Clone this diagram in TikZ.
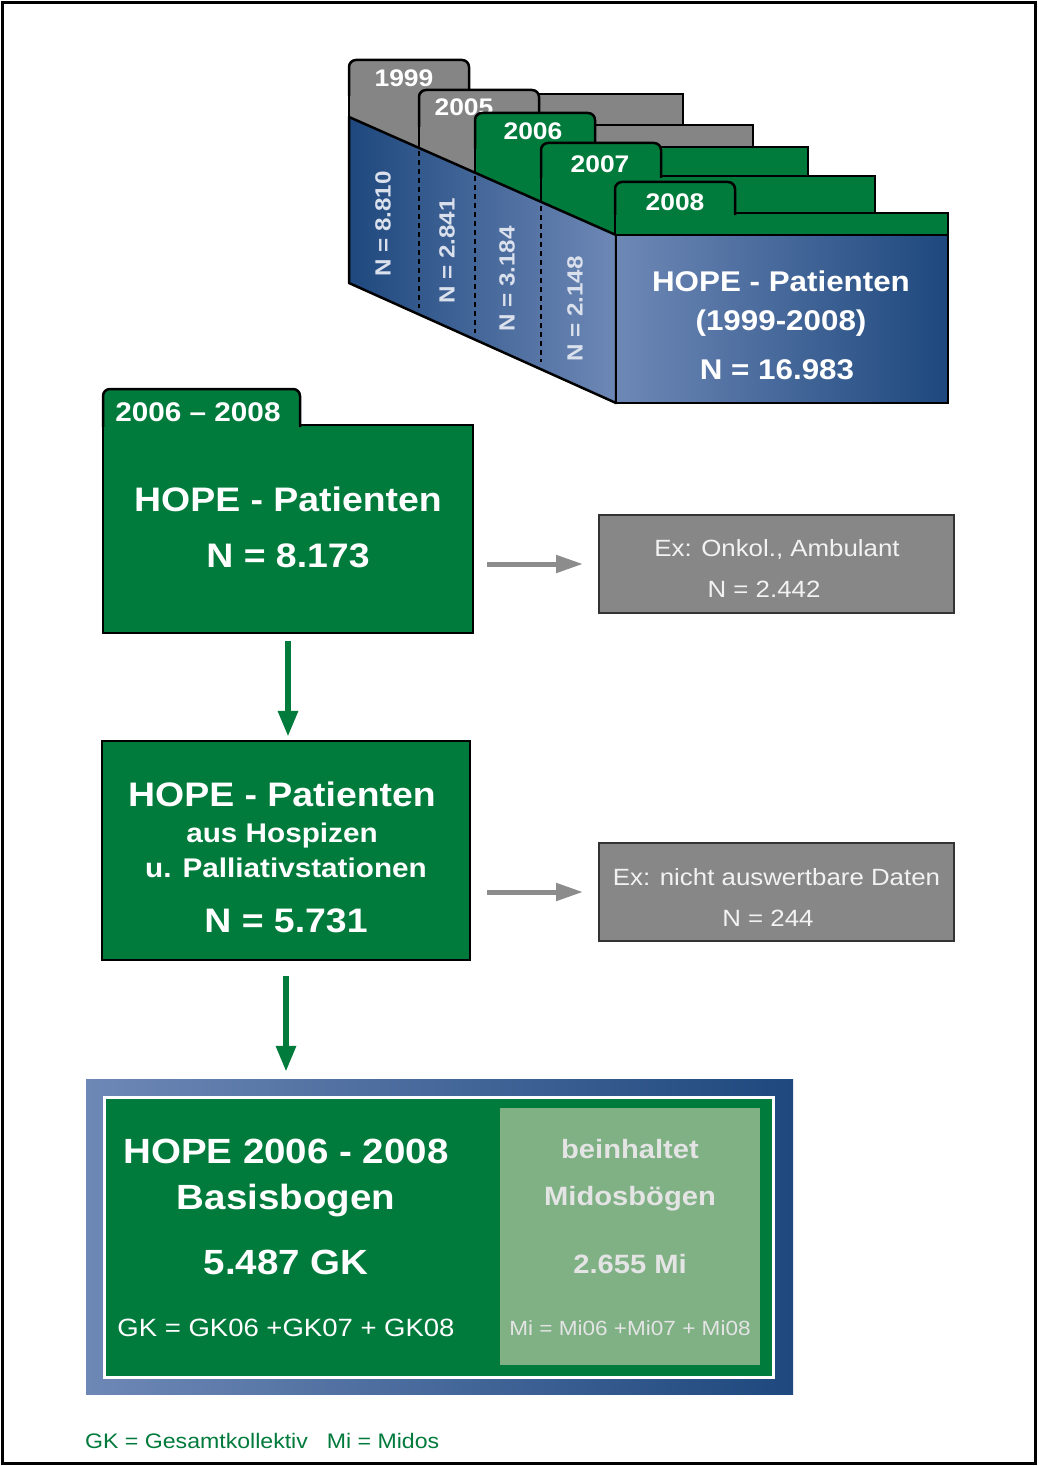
\documentclass[tikz,border=0pt]{standalone}
\usepackage{fontspec}
\setmainfont{Liberation Sans}[FakeStretch=1.1]
\usetikzlibrary{arrows.meta}
\definecolor{grn}{RGB}{0,123,60}
\definecolor{lgrn}{RGB}{127,177,133}
\definecolor{tabgray}{RGB}{133,133,133}
\definecolor{boxgray}{RGB}{135,135,135}
\definecolor{arrgray}{RGB}{140,140,140}
\definecolor{bdark}{RGB}{30,72,126}
\definecolor{blight}{RGB}{110,136,182}
\definecolor{lbl}{RGB}{218,224,236}
\definecolor{ltxt}{RGB}{228,228,228}
\definecolor{gtxt}{RGB}{242,242,242}
\newcommand{\fsz}[1]{\fontsize{#1pt}{#1pt}\selectfont}
\begin{document}
\begin{tikzpicture}[x=1pt,y=-1pt,
  outl/.style={draw=black, line width=2.5pt},
  gfold/.style={outl, fill=tabgray},
  nfold/.style={outl, fill=grn},
  gbox/.style={outl, fill=grn, inner sep=0pt},
  exbox/.style={draw=black!80, line width=2pt, fill=boxgray, inner sep=0pt, minimum width=355pt, minimum height=98pt},
  garrow/.style={draw=grn, line width=6pt, -{Triangle[length=26pt,width=19pt]}},
  grarrow/.style={draw=arrgray, line width=5pt, -{Triangle[length=27pt,width=17pt]}},
  wtxt/.style={text=white, anchor=base, inner sep=0pt},
  tabtxt/.style={wtxt, font=\bfseries\fsz{24}},
  sidetxt/.style={text=lbl, rotate=90, inner sep=0pt, font=\bfseries\fsz{22}},
  dsh/.style={draw=black, line width=1.6pt, dash pattern=on 5pt off 4pt}
]
\useasboundingbox (0,0) rectangle (1038,1466);
\fill[white] (0,0) rectangle (1038,1466);
\draw[line width=3.5pt] (2.5,2.5) rectangle (1035.5,1463.5);

% ---------- folder stack ----------
% 1999
\filldraw[gfold] (349,94) rectangle (683,250);
\filldraw[gfold, rounded corners=7pt] (349,96) -- (349,60) -- (469,60) -- (469,96);
\node[tabtxt] (t1999) at (404,87) {1999};
% 2005
\filldraw[gfold] (419,125) rectangle (753,300);
\filldraw[gfold, rounded corners=7pt] (419,127) -- (419,90) -- (539,90) -- (539,127);
\node[tabtxt] (t2005) at (464,116) {2005};
% 2006
\filldraw[nfold] (475,147) rectangle (808,300);
\filldraw[nfold, rounded corners=7pt] (475,149) -- (475,113) -- (595,113) -- (595,149);
\node[tabtxt] (t2006) at (533,140) {2006};
% 2007
\filldraw[nfold] (541,176) rectangle (875,300);
\filldraw[nfold, rounded corners=7pt] (541,178) -- (541,143) -- (661,143) -- (661,178);
\node[tabtxt] (t2007) at (600,173) {2007};
% 2008
\filldraw[nfold] (615,213) rectangle (948,240);
\filldraw[nfold, rounded corners=7pt] (615,215) -- (615,182) -- (735,182) -- (735,215);
\node[tabtxt] (t2008) at (675,211) {2008};

% side face
\shade[left color=bdark, right color=blight] (349,117) -- (616,235) -- (616,403) -- (349,283) -- cycle;
\draw[outl, line join=round] (349,117) -- (616,235) -- (616,403) -- (349,283) -- cycle;
\draw[dsh] (419,151) -- (419,308);
\draw[dsh] (475,176) -- (475,333);
\draw[dsh] (541,206) -- (541,362);
\node[sidetxt] (n1) at (383,224) {N = 8.810};
\node[sidetxt] (n2) at (447,251) {N = 2.841};
\node[sidetxt] (n3) at (507,279) {N = 3.184};
\node[sidetxt] (n4) at (575,309) {N = 2.148};

% front face
\node[outl, left color=blight, right color=bdark, minimum width=332pt, minimum height=168pt, inner sep=0pt] (ff) at (782,319) {};
\node[wtxt, font=\bfseries\fsz{28.5}] (ff1) at (781,291) {HOPE - Patienten};
\node[wtxt, font=\bfseries\fsz{28.5}] (ff2) at (781,330) {(1999-2008)};
\node[wtxt, font=\bfseries\fsz{28.5}] (ff3) at (777,379) {N = 16.983};

% ---------- box 2006-2008 ----------
\node[gbox, minimum width=370pt, minimum height=208pt] (b2) at (288,529) {};
\filldraw[nfold, rounded corners=7pt] (103,427) -- (103,389) -- (300,389) -- (300,427);
\node[wtxt, font=\bfseries\fsz{27}] (tb2) at (198,421) {2006 – 2008};
\node[wtxt, font=\bfseries\fsz{34}] (b2a) at (288,511) {HOPE - Patienten};
\node[wtxt, font=\bfseries\fsz{34}] (b2b) at (288,567) {N = 8.173};

% ---------- exclusion boxes ----------
\node[exbox] (g1) at (776.5,564) {};
\node[wtxt, text=gtxt, font=\fsz{23.5}] (g1a) at (777,556) {Ex: Onkol., Ambulant};
\node[wtxt, text=gtxt, font=\fsz{23.5}] (g1b) at (764,597.5) {N = 2.442};

\node[exbox] (g2) at (776.5,892) {};
\node[wtxt, text=gtxt, font=\fsz{23.5}] (g2a) at (776.5,885.5) {Ex: nicht auswertbare Daten};
\node[wtxt, text=gtxt, font=\fsz{23.5}] (g2b) at (768,926.5) {N = 244};

% ---------- box 3 ----------
\node[gbox, minimum width=368pt, minimum height=219pt] (b3) at (286,850.5) {};
\node[wtxt, font=\bfseries\fsz{34}] (b3a) at (282,806) {HOPE - Patienten};
\node[wtxt, font=\bfseries\fsz{27}] (b3b) at (282,842) {aus Hospizen};
\node[wtxt, font=\bfseries\fsz{27}] (b3c) at (286,877) {u. Palliativstationen};
\node[wtxt, font=\bfseries\fsz{34}] (b3d) at (286,932) {N = 5.731};

% ---------- bottom box ----------
\node[left color=blight, right color=bdark, minimum width=707pt, minimum height=315pt, inner sep=0pt] (bb) at (439.5,1236.5) {};
\node[draw=white, line width=3pt, fill=grn, minimum width=669pt, minimum height=280pt, inner sep=0pt] (bg) at (438.5,1237) {};
\node[fill=lgrn, minimum width=260pt, minimum height=257pt, inner sep=0pt] (bl) at (630,1236.5) {};
\node[wtxt, font=\bfseries\fsz{35}] (l1) at (286,1163) {HOPE 2006 - 2008};
\node[wtxt, font=\bfseries\fsz{35}] (l2) at (286,1209) {Basisbogen};
\node[wtxt, font=\bfseries\fsz{35}] (l3) at (286,1274) {5.487 GK};
\node[wtxt, font=\fsz{25}] (l4) at (286,1336) {GK = GK06 +GK07 + GK08};
\node[wtxt, text=ltxt, font=\bfseries\fsz{26.5}] (r1) at (630,1158) {beinhaltet};
\node[wtxt, text=ltxt, font=\bfseries\fsz{26.5}] (r2) at (630,1205) {Midosbögen};
\node[wtxt, text=ltxt, font=\bfseries\fsz{26.5}] (r3) at (630,1273.5) {2.655 Mi};
\node[wtxt, text=ltxt, font=\fsz{20.5}] (r4) at (630,1335.5) {Mi = Mi06 +Mi07 + Mi08};

% ---------- arrows ----------
\draw[garrow, shorten <=7pt, shorten >=3pt] (b2.south) -- (b3.north -| b2.south);
\draw[garrow, shorten <=15pt, shorten >=7pt] (b3.south) -- (b3.south |- bb.north);
\draw[grarrow, shorten <=13pt, shorten >=15pt] (b2.east |- g1.west) -- (g1.west);
\draw[grarrow, shorten <=16pt, shorten >=15pt] (b3.east |- g2.west) -- (g2.west);

% ---------- footer ----------
\node[anchor=base west, inner sep=0pt, text=grn, font=\fsz{21}] (foot) at (85,1448.5) {GK = Gesamtkollektiv\hspace{19pt}Mi = Midos};
\end{tikzpicture}
\end{document}
